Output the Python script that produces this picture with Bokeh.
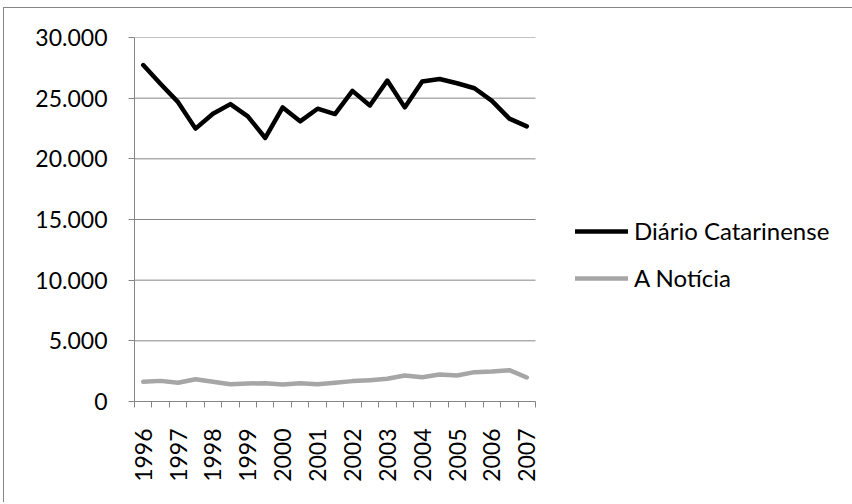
import math
from bokeh.plotting import figure
from bokeh.models import Range1d, FixedTicker, Legend, LegendItem
from bokeh.embed import file_html
from bokeh.resources import INLINE

# ---- data (semesters 1996 .. 2007) ----
period_labels = ["1996", "", "1997", "", "1998", "", "1999", "", "2000", "", "2001", "",
                 "2002", "", "2003", "", "2004", "", "2005", "", "2006", "", "2007"]
diario_catarinense = [27730, 26170, 24670, 22490, 23720, 24510, 23500, 21720, 24240, 23090,
                      24130, 23690, 25600, 24400, 26450, 24240, 26370, 26580, 26230, 25820,
                      24780, 23310, 22680]
a_noticia = [1620, 1700, 1540, 1840, 1620, 1430, 1480, 1510, 1400, 1510, 1430, 1540, 1680,
             1760, 1870, 2140, 2000, 2220, 2140, 2420, 2470, 2580, 1980]
y_ticks = [0, 5000, 10000, 15000, 20000, 25000, 30000]
y_tick_labels = ["0", "5.000", "10.000", "15.000", "20.000", "25.000", "30.000"]
series_names = ["Diário Catarinense", "A Notícia"]

FONT = "Lato"
FS = "24px"
GRID = "#868686"

x = list(range(len(period_labels)))
n = len(period_labels)

PLOT_W = 401      # width of the category area in px
FRAME_W = 713     # frame also covers the legend area on the right
x_start = -0.5
x_end = x_start + n * FRAME_W / PLOT_W

p = figure(output_backend="svg", toolbar_location=None,
           x_range=Range1d(x_start, x_end), y_range=Range1d(0, 30000),
           frame_width=FRAME_W, frame_height=364,
           min_border_left=130, min_border_top=29, min_border_right=5, min_border_bottom=101)
p.styles = {"border-left": "1px solid #868686", "border-top": "1px solid #868686",
            "margin-left": "3px", "margin-top": "7px"}
p.outline_line_color = None
p.background_fill_color = "white"
p.border_fill_color = "white"

# y axis
p.yaxis.ticker = FixedTicker(ticks=y_ticks, minor_ticks=[])
p.yaxis.major_label_overrides = {t: l for t, l in zip(y_ticks, y_tick_labels)}
p.yaxis.axis_line_color = GRID
p.yaxis.major_tick_line_color = GRID
p.yaxis.major_tick_out = 6
p.yaxis.major_tick_in = 0
p.yaxis.minor_tick_line_color = None
p.yaxis.major_label_standoff = 21
p.yaxis.major_label_text_font = FONT
p.yaxis.major_label_text_font_size = "23px"
p.yaxis.major_label_text_color = "#000000"

# x axis
label_pos = [i for i, l in enumerate(period_labels) if l]
p.xaxis.ticker = FixedTicker(ticks=label_pos, minor_ticks=[i - 0.5 for i in range(n + 1)])
p.xaxis.bounds = (-0.5, n - 0.5)
p.xaxis.major_label_overrides = {i: period_labels[i] for i in label_pos}
p.xaxis.axis_line_color = GRID
p.xaxis.major_tick_line_color = None
p.xaxis.major_tick_out = 0
p.xaxis.major_tick_in = 0
p.xaxis.minor_tick_line_color = GRID
p.xaxis.minor_tick_out = 6
p.xaxis.minor_tick_in = 0
p.xaxis.major_label_orientation = math.pi / 2
p.xaxis.major_label_standoff = 21
p.xaxis.major_label_text_font = FONT
p.xaxis.major_label_text_font_size = "23px"
p.xaxis.major_label_text_color = "#000000"

# horizontal gridlines limited to the category area
p.xgrid.grid_line_color = None
p.ygrid.grid_line_color = None
p.segment(x0=[-0.5] * len(y_ticks), x1=[n - 0.5] * len(y_ticks), y0=y_ticks, y1=y_ticks,
          line_color=GRID, line_width=1)

r1 = p.line(x, diario_catarinense, line_color="#000000", line_width=4.5,
            line_join="round", line_cap="round")
r2 = p.line(x, a_noticia, line_color="#A6A6A6", line_width=4.5,
            line_join="round", line_cap="round")

legend = Legend(items=[LegendItem(label=series_names[0], renderers=[r1]),
                       LegendItem(label=series_names[1], renderers=[r2])],
                location=(441, 109))
legend.border_line_color = None
legend.background_fill_alpha = 0
legend.padding = 0
legend.margin = 0
legend.glyph_width = 53
legend.glyph_height = 24
legend.label_height = 24
legend.label_standoff = 6
legend.spacing = 18
legend.label_text_font = FONT
legend.label_text_font_size = FS
legend.label_text_color = "#000000"
p.add_layout(legend)

open("out.html", "w").write(file_html(p, INLINE))
